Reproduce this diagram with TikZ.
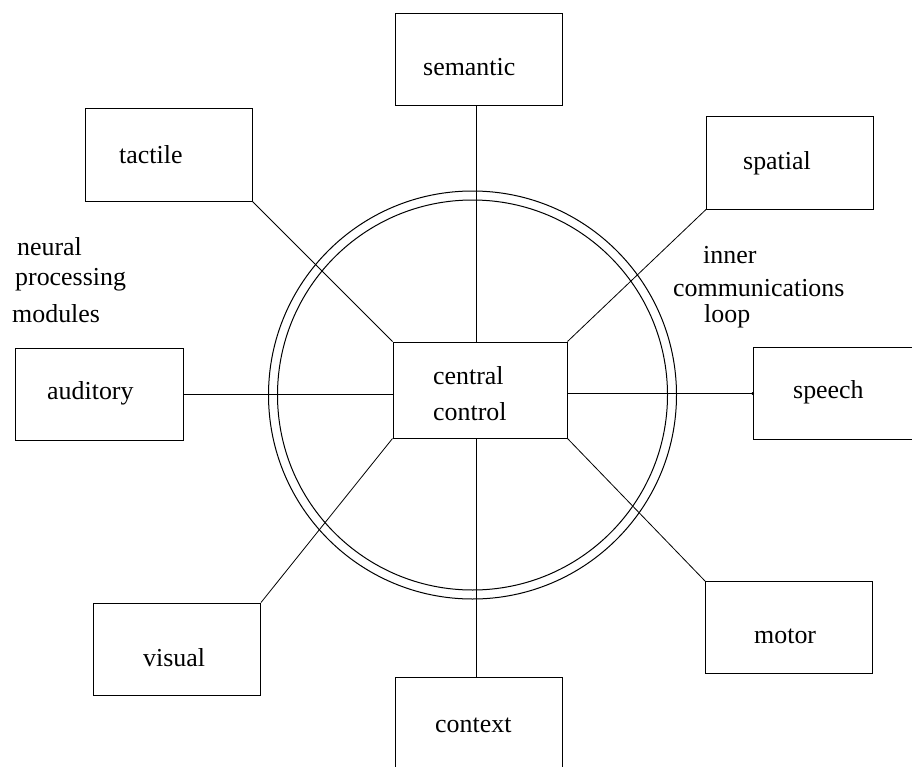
\documentclass[tikz,border=0pt]{standalone}
\usepackage{fontspec}
\setmainfont{Liberation Serif}
\begin{document}
\begin{tikzpicture}[x=1bp,y=-1bp,
  modbox/.style={draw, line width=1bp, minimum width=167bp, minimum height=92bp, inner sep=0pt},
  lbl/.style={anchor=base west, inner sep=0pt, font=\fontsize{26}{30}\selectfont},
  wire/.style={line width=0.8bp},
  ring/.style={line width=1bp}]
\useasboundingbox (0,0) rectangle (912,767);
\clip (0,0) rectangle (912,767);

% communications loop
\draw[ring] (472.5,395) circle (204);
\draw[ring] (472.5,395) circle (195);

% module boxes
\node[modbox] (semantic) at (479,59.5) {};
\node[modbox] (tactile)  at (168.5,155) {};
\node[modbox] (spatial)  at (790,163) {};
\node[modbox] (auditory) at (99.5,394) {};
\node[modbox, minimum width=174bp, minimum height=96bp] (central) at (480,390) {};
\node[modbox] (speech)   at (836.5,393.5) {};
\node[modbox] (visual)   at (177,649) {};
\node[modbox] (motor)    at (789,627.5) {};
\node[modbox] (context)  at (479,723.5) {};

% vertical spine position
\coordinate (spine) at (476,0);

% box labels
\node[lbl] (semanticText) at (423,76) {semantic};
\node[lbl] (tactileText)  at (119,163) {tactile};
\node[lbl] (spatialText)  at (743,169) {spatial};
\node[lbl] (auditoryText) at (47,399) {auditory};
\node[lbl] (centralText1) at (433,384) {central};
\node[lbl] (centralText2) at (433,420) {control};
\node[lbl] (speechText)   at (793,398) {speech};
\node[lbl] (visualText)   at (143,666) {visual};
\node[lbl] (motorText)    at (754,643) {motor};
\node[lbl] (contextText)  at (435,732) {context};

% annotations
\node[lbl] (lblNeural)     at (17,255) {neural};
\node[lbl] (lblProcessing) at (15,285) {processing};
\node[lbl] (lblModules)    at (12,322) {modules};
\node[lbl] (lblInner)      at (703,263) {inner};
\node[lbl] (lblComm)       at (673,296) {communications};
\node[lbl] (lblLoop)       at (704,322) {loop};

% spokes to the central controller
\draw[wire] (semantic.south -| spine) -- (central.north -| spine);
\draw[wire] (tactile.south east) -- (central.north west);
\draw[wire] (spatial.south west) -- (central.north east);
\draw[wire] (auditory.east) -- (auditory.east -| central.west);
\draw[wire] (speech.west -| central.east) -- (speech.west);
\fill (speech.west) circle (1.5);
\draw[wire] (visual.north east) -- (central.south west);
\draw[wire] (motor.north west) -- (central.south east);
\draw[wire] (central.south -| spine) -- (context.north -| spine);
\end{tikzpicture}
\end{document}
